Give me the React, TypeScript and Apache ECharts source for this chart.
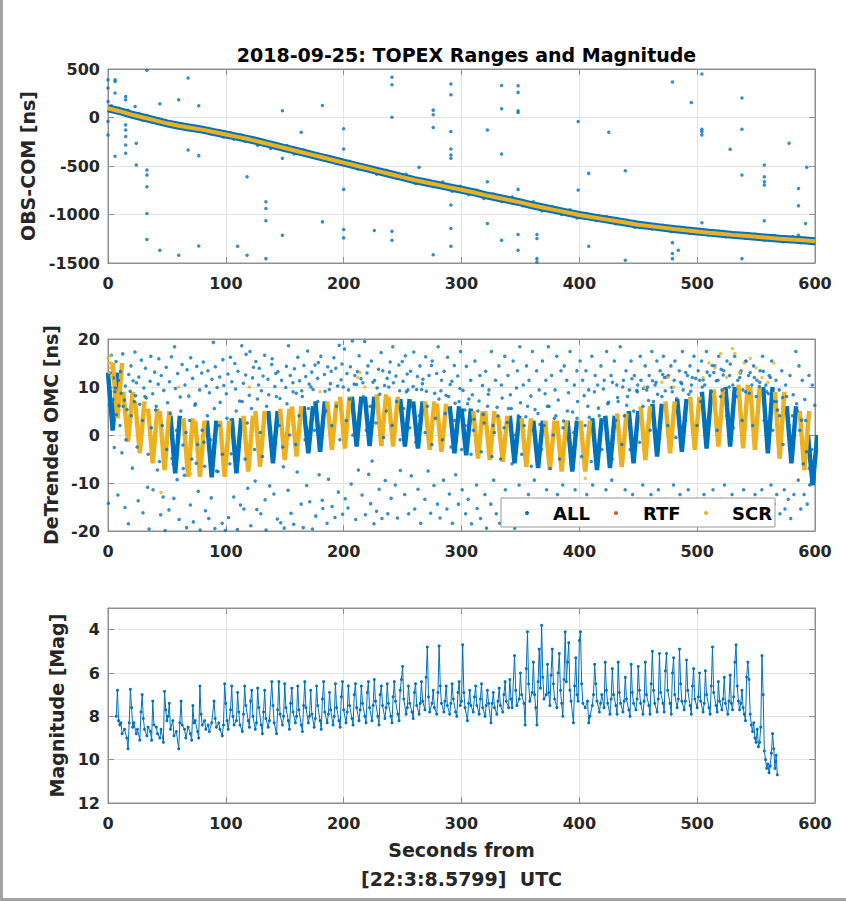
import React, { useEffect, useRef } from 'react';
import * as echarts from 'echarts';

const BLUE = '#0072BD';
const RED = '#D95319';
const YELLOW = '#EDB120';
const FONT = 'DejaVu Sans';
const AXIS_COLOR = '#8f8f8f';
const GRID_COLOR = '#e4e4e4';
const TEXT_COLOR = '#262626';

const titleText = '2018-09-25: TOPEX Ranges and Magnitude';
const yNames = ['OBS-COM [ns]', 'DeTrended OMC [ns]', 'Magnitude [Mag]'];
const xName = 'Seconds from\n[22:3:8.5799]  UTC';
const legendNames = ['ALL', 'RTF', 'SCR'];

// ---------- Top panel: OBS-COM ----------
const rangeTrendX = [0, 10, 20, 30, 40, 50, 60, 70, 80, 90, 100, 110, 120, 130, 140, 150, 160, 170, 180, 190, 200, 210, 220, 230, 240, 250, 260, 270, 280, 290, 300, 310, 320, 330, 340, 350, 360, 370, 380, 390, 400, 410, 420, 430, 440, 450, 460, 470, 480, 490, 500, 510, 520, 530, 540, 550, 560, 570, 580, 590, 600];
const rangeTrendY = [95, 65, 30, 0, -30, -60, -85, -105, -125, -150, -175, -200, -225, -255, -285, -315, -345, -375, -405, -435, -465, -495, -525, -555, -585, -615, -645, -670, -695, -720, -745, -770, -800, -825, -850, -875, -905, -930, -955, -980, -1005, -1025, -1045, -1065, -1085, -1105, -1120, -1135, -1150, -1163, -1175, -1187, -1198, -1210, -1220, -1230, -1240, -1250, -1258, -1266, -1275];
const rangeBandNoise = [[3, 120], [7, 60], [9, 95], [14, 40], [17, 75], [21, 20], [26, 40], [29, -25], [33, 20], [36, -40], [42, -15], [45, -60], [52, -45], [55, -85], [63, -70], [66, -115], [74, -90], [77, -140], [84, -115], [88, -170], [95, -140], [98, -200], [104, -160], [107, -225], [113, -180], [116, -245], [124, -215], [127, -285], [135, -250], [138, -320], [145, -285], [152, -290], [158, -375], [166, -335], [174, -410], [185, -395], [193, -470], [205, -450], [212, -530], [220, -505], [228, -585], [236, -545], [244, -620], [253, -585], [261, -680], [268, -640], [276, -715], [284, -665], [292, -760], [299, -710], [306, -795], [313, -750], [319, -835], [327, -790], [334, -865], [343, -820], [352, -910], [361, -870], [368, -960], [377, -920], [385, -1000], [392, -950], [398, -1035], [406, -990], [414, -1060], [423, -1020], [431, -1095], [440, -1060], [447, -1130], [455, -1090], [462, -1150], [471, -1110], [478, -1175], [487, -1140], [494, -1195], [502, -1155], [509, -1210], [517, -1175], [524, -1230], [532, -1190], [541, -1245], [549, -1205], [557, -1265], [566, -1220], [573, -1280], [581, -1230], [588, -1290], [596, -1250], [599, -1300]];
const rangeOutliers = [[0, 390], [0, 303], [0, 165], [0, -40], [0, -180], [6, 390], [6, 372], [6, 252], [6, -400], [15, 217], [15, 183], [15, 28], [15, -76], [15, -128], [15, -196], [15, -283], [15, -369], [23, 114], [24, -490], [24, -265], [33, 486], [33, -541], [33, -593], [33, -714], [33, -990], [33, -1258], [44, -1369], [44, 141], [60, 183], [60, -1421], [68, 407], [68, -334], [77, 121], [77, -393], [77, -1324], [110, -1328], [118, -610], [118, -1421], [134, -869], [134, -938], [134, -1065], [134, -1455], [148, 69], [148, -421], [148, -1214], [164, -152], [182, 124], [182, -1076], [200, -117], [200, -324], [200, -741], [200, -1155], [200, -1241], [226, -1165], [241, 414], [241, 338], [241, 3], [241, -1172], [241, -1265], [264, -514], [276, 76], [276, 28], [276, -103], [276, -1414], [291, 345], [291, 234], [291, -145], [291, -324], [291, -386], [291, -421], [291, -903], [291, -1145], [291, -1328], [322, -128], [322, -662], [322, -1093], [334, 331], [334, 90], [334, -376], [334, -1265], [348, 327], [348, 259], [348, 69], [348, 52], [348, -741], [348, -1207], [348, -1369], [364, -1207], [364, -1248], [364, -1455], [364, -1490], [399, -41], [399, -748], [408, -576], [408, -1328], [425, -152], [439, -548], [439, -1472], [479, 365], [479, -1290], [479, -1403], [479, -1455], [484, -1369], [495, 155], [504, 448], [504, -121], [504, -145], [504, -179], [504, -1086], [528, -328], [538, 200], [538, -121], [538, -593], [538, -1455], [557, -490], [557, -610], [557, -662], [557, -697], [557, -1065], [578, -265], [586, -731], [586, -910], [586, -1214], [592, -1093], [593, -514]];

// ---------- Middle panel: detrended OMC ----------
const omcTroughX = [4, 8, 17, 27, 38, 48, 57, 68, 78, 88, 99, 109, 119, 129, 140, 150, 160, 170, 180, 190, 201, 211, 222, 232, 242, 252, 263, 273, 283, 294, 304, 314, 324, 335, 345, 355, 365, 375, 385, 394, 405, 415, 426, 436, 446, 456, 466, 477, 487, 498, 508, 518, 528, 539, 549, 560, 570, 580, 591, 598];
const omcTroughY = [1, 3.5, -1.4, -3.8, -5.9, -7.3, -8, -8.7, -8.7, -8.8, -8.7, -8, -7.6, -6.6, -5.9, -5.2, -4.5, -3.8, -3.5, -3.1, -2.8, -2.4, -2.3, -2.3, -2.4, -2.4, -2.8, -3.1, -3.5, -3.8, -4.2, -4.9, -5.2, -5.6, -5.9, -6.6, -6.9, -7.3, -7.6, -7.6, -7.6, -7.3, -6.9, -6.6, -5.9, -5.2, -4.5, -3.8, -3.5, -3.1, -2.8, -2.4, -2.4, -2.8, -3.1, -3.8, -4.9, -5.9, -7.3, -10.5];
const omcPeakY = [13, 15, 9, 7, 5.5, 5, 4, 3.5, 3, 3, 3, 3.5, 4, 5, 5, 5.5, 6, 6, 7, 7, 8, 8, 8, 8.5, 8, 7.5, 7, 7, 6.5, 6, 5.5, 5, 5, 4, 4, 3.5, 3, 3, 3, 3, 3, 3.5, 4, 4.5, 5, 6, 6.5, 7, 7.5, 8, 9, 9.5, 10, 10.5, 10, 10, 9, 6, 5, 0];
const omcSource = ['A', 'S', 'S', 'S', 'S', 'S', 'A', 'S', 'S', 'A', 'S', 'A', 'S', 'S', 'A', 'S', 'S', 'A', 'A', 'S', 'S', 'A', 'A', 'S', 'S', 'A', 'A', 'S', 'S', 'A', 'A', 'S', 'S', 'S', 'A', 'S', 'A', 'S', 'S', 'A', 'S', 'A', 'A', 'S', 'A', 'S', 'A', 'S', 'A', 'S', 'A', 'S', 'A', 'S', 'S', 'A', 'S', 'A', 'S', 'A'];
const omcAllNoise = [[0.3, -14.2], [0.8, 10.7], [1.2, 6.3], [1.9, 12.9], [2.2, 9.1], [2.8, 16.6], [3.4, 1.2], [4.1, 7.4], [4.6, 11.9], [5.3, -2.6], [6.2, 9.8], [6.8, 15.3], [7.1, 4.2], [8.4, -12.5], [8.9, 11.4], [9.3, 6.1], [10.6, 13.2], [11.2, 8.7], [11.8, -3.7], [12.5, 16.9], [13.9, 7.3], [14.4, -15.1], [14.7, 10.2], [16.1, 5.3], [17.3, -18.5], [17.6, 12.6], [18.8, 9.1], [19.5, 14.4], [20.7, -6.9], [21.3, 11.3], [22.9, 17.3], [23.4, 8.2], [24.1, 10.9], [25.6, -13.7], [26.2, 12.1], [26.9, 6.4], [28.3, 15.6], [29.7, -16.2], [30.4, 9.8], [31.8, 13.9], [32.5, 7.7], [33.6, -10.9], [34.9, -19.6], [35.7, 11.2], [36.3, 16.4], [37.9, 8.6], [38.2, -11.4], [39.6, 13.1], [40.5, 5.2], [41.9, -7.3], [42.6, 10.6], [43.1, 15.9], [44.7, -16.6], [45.2, 12.4], [46.8, -12.9], [47.3, 9.3], [48.5, -19.9], [49.4, 14.1], [50.6, 6.7], [51.7, -15.6], [52.2, 11.1], [53.8, 16.3], [54.4, -4.9], [55.9, -13.2], [56.5, 18.4], [57.2, 9.7], [58.7, -9.3], [59.1, 12.8],
  [60.4, -17.6], [61.3, 7.9], [62.9, 14.7], [63.5, -2.1], [64.8, -8.4], [65.3, 10.4], [66.7, -19.3], [67.1, 13.6], [68.6, 8.1], [69.9, -14.6], [70.2, 16.1], [71.8, 11.8], [72.4, -18.1], [73.7, 6.2], [74.9, -5.9], [75.3, 14.3], [76.6, -11.7], [77.8, 9.4], [78.2, -19.8], [79.5, 12.9], [80.9, 15.2], [81.4, -1.5], [82.7, -15.8], [83.3, 10.2], [84.8, 13.4], [85.5, -17.4], [86.1, 8.8], [87.6, -13.1], [88.2, 11.6], [89.4, 19.3], [90.7, -19.5], [91.1, 14.2], [92.6, 9.9], [93.3, -7.6], [94.8, 12.1], [95.2, 6.8], [96.9, -18.4], [97.5, 15.7], [98.3, 10.3], [99.6, -19.9], [100.4, 8.6], [101.8, 12.7], [102.3, -17.2], [103.9, 16.2], [104.5, -3.9], [105.1, 11.1], [106.7, -12.9], [107.6, 14.9], [108.2, 9.6], [109.8, -19.7], [110.3, 13.3], [111.7, 7.1], [112.4, -14.6], [113.5, 18.6], [114.9, 10.8], [115.3, -15.4], [116.8, 12.5], [117.2, 16.8], [118.6, -11.1], [119.9, 8.3],
  [120.5, 17.4], [121.2, -18.9], [122.7, 11.9], [123.4, 14.1], [124.9, -9.6], [125.5, 15.3], [126.3, -15.5], [127.8, 10.4], [128.4, 13.9], [129.7, -16.4], [130.2, 9.2], [131.6, 12.3], [132.9, 16.6], [133.3, -13.5], [134.1, -19.8], [135.8, 11.6], [136.4, 8.4], [137.2, -10.6], [138.9, 14.7], [139.3, 15.9], [140.8, -12.3], [141.6, 10.1], [142.4, 12.8], [143.7, -17.5], [144.2, 13.2], [145.9, 7.6], [146.6, -18.3], [147.3, 11.4], [148.8, -6.6], [149.5, -19.4], [150.9, 9.9], [151.4, 14.3], [152.8, -11.5], [153.2, 18.6], [154.7, 12.4], [155.3, -16.3], [156.9, 10.9], [157.6, -18.6], [158.2, 13.8], [159.8, 8.7], [160.5, -7.7], [161.1, 16.2], [162.6, 11.3], [163.9, -14.4], [164.4, 9.2], [165.7, -19.3], [166.3, 14.5], [167.8, 12.2], [168.6, -10.5], [169.4, 17.5], [170.7, 10.6], [171.2, -13.9], [172.9, 13.1], [173.5, -19.6], [174.1, 9.5], [175.7, 14.6], [176.3, -16.9], [177.9, 11.8], [178.5, 15.1], [179.2, -8.3],
  [180.6, 16.4], [181.8, -13.6], [182.3, -15.3], [183.7, 12.6], [184.2, 9.1], [185.9, -18.4], [186.5, 14.2], [187.1, -9.2], [188.8, 10.7], [189.4, 13.3], [190.2, -14.9], [191.7, 16.1], [192.6, -17.2], [193.3, 13.9], [194.9, 10.2], [195.5, -11.9], [196.2, 18.7], [197.8, 11.5], [198.6, 14.8], [199.1, -16.5], [200.7, 17.9], [201.3, -13.3], [202.8, 12.8], [203.6, -15.2], [204.1, 9.4], [205.7, 14.2], [206.4, -10.2], [207.3, 19.6], [208.9, 10.6], [209.5, 12.4], [210.2, -17.6], [211.8, 13.2], [212.5, -7.3], [213.1, 16.5], [214.7, 11.7], [215.6, -12.5], [216.3, 10.9], [217.9, 19.5], [218.4, -16.6], [219.8, 12.9], [220.6, 14.4], [221.2, -8.2], [222.9, -14.3], [223.5, 15.4], [224.1, -5.4], [225.7, -18.5], [226.3, 11.4], [227.9, -15.9], [228.4, 9.8], [229.6, 13.7], [230.1, -11.3], [231.8, 17.2], [232.5, -17.4], [233.2, 13.4], [234.7, 10.3], [235.3, -9.5], [236.9, 11.8], [237.4, -16.4], [238.8, 13.1], [239.5, 15.2],
  [240.3, -13.2], [241.7, 18.4], [242.2, 10.9], [243.8, -10.4], [244.4, 12.3], [245.6, -17.3], [246.9, 14.6], [247.5, 9.2], [248.1, -7.4], [249.7, 15.3], [250.4, 11.2], [251.8, -12.4], [252.3, 16.5], [253.9, 12.7], [254.5, 9.4], [255.2, -16.4], [256.8, 13.3], [257.4, -8.5], [258.9, 10.1], [259.5, 17.3], [260.3, -15.4], [261.9, 9.5], [262.6, 12.2], [263.1, -11.3], [264.7, 14.4], [265.4, -18.4], [266.8, 10.7], [267.3, 11.6], [268.9, -13.4], [269.6, 16.3], [270.2, 9.1], [271.7, -7.5], [272.4, 12.4], [273.8, -16.3], [274.5, 14.5], [275.1, 15.4], [276.6, -10.5], [277.3, 8.7], [278.9, 12.8], [279.6, -14.4], [280.2, 18.4], [281.8, -17.3], [282.5, 9.2], [283.1, 11.4], [284.7, -9.4], [285.3, 13.3], [286.9, 8.3], [287.6, -15.4], [288.2, 16.2], [289.7, -12.3], [290.4, 10.5], [291.8, 11.2], [292.3, -18.4], [293.9, 14.5], [294.6, 6.6], [295.1, -8.3], [296.8, 12.3], [297.4, -14.4], [298.7, 9.7], [299.2, 17.4],
  [300.6, -11.4], [301.3, 9.3], [302.9, 5.2], [303.5, -16.4], [304.1, 14.3], [305.7, -13.4], [306.3, 7.5], [307.8, 11.4], [308.5, -18.5], [309.2, 8.4], [310.7, 3.3], [311.4, 15.4], [312.8, -10.4], [313.3, -15.3], [314.9, 7.1], [315.6, 12.4], [316.2, -17.4], [317.8, 10.3], [318.4, 4.3], [319.9, -12.4], [320.5, 13.3], [321.2, -19.4], [322.8, 8.5], [323.3, 9.4], [324.9, -14.4], [325.4, 17.4], [326.7, 2.0], [327.3, -9.4], [328.9, 11.4], [329.5, -16.4], [330.2, 5.8], [331.7, 14.4], [332.4, -18.4], [333.8, 10.4], [334.5, 7.7], [335.1, -13.4], [336.7, 16.4], [337.2, -11.4], [338.8, 2.6], [339.4, 12.4], [340.9, -17.4], [341.5, 8.4], [342.3, 5.5], [343.8, 15.4], [344.5, -15.4], [345.2, -19.4], [346.7, 9.8], [347.4, 13.4], [348.9, -10.4], [349.5, 18.4], [350.1, 6.7], [351.8, -14.4], [352.4, 10.4], [353.9, -17.4], [354.6, 3.8], [355.2, 14.4], [356.8, -12.4], [357.3, 11.4], [358.9, 8.1], [359.6, -16.4],
  [360.2, 17.4], [361.8, -9.4], [362.4, 5.3], [363.7, 13.4], [364.3, -18.4], [365.9, 9.4], [366.5, 2.2], [367.1, -13.4], [368.7, 15.4], [369.4, -15.4], [370.9, 8.6], [371.6, 11.4], [372.2, -11.4], [373.7, 18.4], [374.3, 6.0], [375.8, -17.4], [376.5, 12.4], [377.2, -14.4], [378.8, 3.5], [379.4, 9.4], [380.9, 16.4], [381.5, -12.4], [382.1, 7.3], [383.7, -18.4], [384.4, 13.4], [385.9, -10.4], [386.6, 2.9], [387.2, 14.4], [388.7, -15.4], [389.3, 11.4], [390.8, 8.8], [391.5, -13.4], [392.1, 17.4], [393.6, -17.4], [394.3, 4.8], [395.8, 10.4], [396.4, -11.4], [397.9, 13.4], [398.5, 7.0], [399.2, -16.4], [400.7, 15.4], [401.3, -14.4], [402.8, 11.4], [403.5, -18.4], [404.1, 8.2], [405.6, 13.4], [406.3, -12.4], [407.9, 9.4], [408.4, 3.7], [409.1, -15.4], [410.6, 16.4], [411.3, -10.4], [412.8, 9.0], [413.4, 12.4], [414.9, -17.4], [415.5, 10.4], [416.2, 5.6], [417.7, -13.4], [418.3, 14.4], [419.8, -15.4],
  [420.4, 9.6], [421.1, 11.4], [422.6, -11.4], [423.2, 17.4], [424.8, 6.8], [425.4, -16.4], [426.9, 12.4], [427.5, -9.4], [428.1, 11.0], [429.7, 15.4], [430.3, -18.4], [431.8, 10.4], [432.5, 7.8], [433.1, -13.4], [434.7, 18.4], [435.3, -14.4], [436.8, 10.0], [437.4, 11.4], [438.9, -11.4], [439.6, 13.4], [440.2, 6.2], [441.8, -17.4], [442.4, 9.4], [443.9, 15.4], [444.6, 11.7], [445.2, -12.4], [446.7, 12.4], [447.3, -15.4], [448.8, 9.3], [449.5, 10.4], [450.1, -13.4], [451.7, 16.4], [452.3, 11.4], [453.8, -10.4], [454.4, 9.7], [455.9, 14.4], [456.6, -16.4], [457.2, 9.4], [458.7, 7.2], [459.3, 12.4], [460.8, -12.4], [461.5, 17.4], [462.1, 11.3], [463.7, -14.4], [464.3, 10.4], [465.8, 15.4], [466.4, 8.5], [467.1, -11.4], [468.6, 13.4], [469.2, -15.4], [470.7, 12.6], [471.4, 16.4], [472.9, 9.2], [473.5, -13.4], [474.1, 12.1], [475.6, 12.4], [476.2, -17.4], [477.7, 14.4], [478.4, 9.9], [479.9, -10.4],
  [480.5, 11.4], [481.1, 15.4], [482.6, 7.6], [483.3, -14.4], [484.8, 13.4], [485.4, -12.4], [486.9, 10.7], [487.5, 17.4], [488.1, 9.4], [489.7, -16.4], [490.3, 13.0], [491.8, 12.4], [492.4, -11.4], [493.9, 14.4], [494.5, 9.1], [495.1, 10.4], [496.7, -15.4], [497.3, 16.4], [498.8, 11.8], [499.4, -13.4], [500.9, 13.4], [501.5, -18.4], [502.1, 11.4], [503.7, 15.4], [504.3, 10.0], [505.8, -12.4], [506.4, 10.4], [507.9, 17.4], [508.5, 13.1], [509.2, -14.4], [510.7, 12.4], [511.3, 9.2], [512.8, 14.5], [513.4, -11.4], [514.9, 14.4], [515.6, -16.4], [516.2, 11.3], [517.7, 11.4], [518.3, 16.4], [519.8, -13.4], [520.4, 13.7], [521.1, 9.4], [522.6, 13.4], [523.2, -10.4], [524.7, 8.8], [525.3, 15.4], [526.9, -15.4], [527.5, 12.4], [528.1, 14.8], [529.6, -12.4], [530.2, 10.4], [531.8, 16.4], [532.4, 9.5], [533.9, -14.4], [534.5, 11.4], [535.1, -17.4], [536.7, 12.9], [537.3, 13.4], [538.8, 9.4], [539.4, -11.4],
  [540.9, 15.3], [541.5, 15.4], [542.1, -13.4], [543.6, 12.4], [544.3, 8.7], [545.8, -16.4], [546.4, 10.4], [547.9, 14.4], [548.5, 12.0], [549.1, -12.4], [550.7, 11.4], [551.3, -15.4], [552.8, 10.1], [553.4, 13.4], [554.9, -11.4], [555.5, 16.4], [556.1, 13.3], [557.7, -13.4], [558.3, 10.4], [559.8, -17.4], [560.4, 8.6], [561.1, 12.4], [562.6, -10.4], [563.2, 15.4], [564.7, 7.0], [565.3, -14.4], [566.9, 11.4], [567.5, -12.4], [568.1, 5.2], [569.6, 9.4], [570.2, -16.4], [571.8, 13.4], [572.4, 7.8], [573.9, -11.4], [574.5, -15.4], [575.1, 10.4], [576.7, 5.7], [577.3, -13.4], [578.8, 12.4], [579.4, -17.4], [580.9, 4.0], [581.5, 8.4], [582.1, -12.4], [583.7, 17.4], [584.3, 6.5], [585.8, -9.4], [586.4, 14.4], [587.9, -15.4], [588.5, 3.1], [589.2, 11.4], [590.7, -12.4], [591.3, 7.4], [592.8, -3.5], [593.4, -14.4], [594.9, 12.4], [595.5, -10.4], [596.1, -5.3], [597.7, 10.4], [598.3, -8.4], [599.8, 6.2]];
const omcAllNearBand = [[2.5, 5], [5.8, 9], [10.2, 2], [12.8, 6], [15.3, -1], [19.8, 4], [22.4, 7], [24.7, -2.5], [29.2, 3], [31.3, 8], [34.1, -4], [36.8, 1.5], [40.9, 6], [43.7, -5.5], [46.1, 2], [49.9, -3], [52.9, 4.5], [55.2, -6], [58.1, 1], [61.8, 5], [63.9, -7], [66.2, 0.5], [69.3, 3], [71.2, -5], [74.3, 6.5], [76.1, -2], [79.9, 1], [82.1, -6.5], [84.3, 4], [87.1, -1], [90.2, 5.5], [92.1, -7.5], [94.3, 2], [97.1, -4], [100.9, 3.5], [103.4, -6], [106.1, 1], [108.8, 5], [111.2, -2.5], [113.9, 7], [116.3, -5], [118.2, 2.5], [121.8, 5.5], [124.3, -3], [126.8, 7.5], [129.2, 0.5], [131.1, -4.5], [134.6, 6], [137.9, 1.5], [139.8, -3], [142.9, 8], [145.3, 2], [148.3, -2.5], [151.9, 6.5], [154.2, 0], [157.1, 9], [159.3, -2], [162.1, 4], [164.9, 8], [167.2, -1], [170.1, 5.5], [172.3, 10], [175.2, 1], [178.1, 7], [181.2, -0.5], [184.8, 5], [187.8, 9.5], [189.9, 2], [193.9, 6], [196.8, -1], [199.7, 10], [202.2, 3], [205.1, 7.5], [207.8, 0], [210.9, 10.5], [213.6, 4], [216.8, 8], [219.2, 1], [222.3, 6], [224.8, 11], [227.3, 2.5], [230.7, 8.5], [233.9, -0.5], [236.2, 5], [238.3, 10], [241.1, 2], [244.9, 7], [247.9, -1], [250.9, 5.5], [253.2, 9], [256.1, 1.5], [258.3, 6], [261.2, -1.5], [264.1, 4], [266.2, 9.5], [269.1, 0.5], [271.1, 6], [274.9, -2], [277.9, 3.5], [280.9, 7.5], [283.8, -1], [286.2, 4.5], [289.1, 8], [291.1, -2.5], [294.1, 3], [297.9, 7], [300.2, -3], [303.1, 2], [305.2, 6.5], [308.1, -4], [310.1, 1], [313.9, 5], [316.8, -3.5], [319.2, 2.5], [322.1, 6], [325.8, -4.5], [327.9, 0.5], [330.9, 4], [333.1, -5], [336.1, 1.5], [339.9, 5.5], [342.9, -6], [345.9, 0], [348.2, 4], [351.1, -4], [353.2, 2], [356.1, 6], [359.2, -6.5], [361.1, 1], [364.9, 4.5], [367.9, -3], [370.1, 2], [372.9, 6], [375.2, -7], [377.9, 0], [380.1, 4], [383.2, -5], [386.1, 1.5], [389.9, 5], [392.9, -6], [395.2, 0.5], [398.1, 3.5], [401.9, -4.5], [404.9, 2], [407.2, 6], [410.1, -5.5], [412.2, 1], [416.9, 4], [419.1, -3], [421.9, 2.5], [424.1, 6.5], [427.9, -5], [430.9, 3], [432.9, 7], [436.1, -2], [438.2, 4], [440.9, 8], [443.1, -3], [446.1, 5], [449.1, 9], [451.1, -1.5], [454.1, 6], [457.9, 10], [460.1, 1], [462.9, 7], [465.1, 11], [467.9, 0], [470.1, 8], [472.2, 12], [475.1, 2], [478.9, 9], [481.9, -0.5], [484.1, 6], [486.1, 11], [490.1, 3], [492.9, 8.5], [495.9, 12], [499.9, 2], [502.9, 7], [505.1, 11.5], [509.9, 3], [512.1, 9], [514.1, 13], [516.9, 1], [519.9, 8], [522.1, 12.5], [525.1, 4], [527.2, 10], [530.7, 1.5], [533.1, 8], [536.1, 12], [538.1, 3], [541.1, 9], [544.9, 13], [547.1, 2], [550.1, 8], [553.1, 11], [556.8, 3], [559.1, 9], [562.1, 12], [564.1, 1], [567.1, 7], [569.9, 4], [572.9, -2], [575.9, 8], [578.1, 2], [581.1, -4], [584.9, 5], [587.1, 1], [590.1, -6], [592.1, 3], [595.1, -7], [597.1, -3], [599.1, -9]];
const omcScrExtra = [[0, 16], [1, 15], [1, 13], [2, 14], [2, 16.5], [3, 12], [3, 15], [4, 13.5], [45, -12], [60, 10], [70, -8], [120, 10], [180, 9], [212, 12], [214, 13], [218, 10], [405, -9], [455, 10], [470, 11], [475, 12], [480, 10], [505, 12], [510, 15], [515, 14], [520, 17], [525, 12], [530, 18], [532, 17], [536, 13], [540, 15], [545, 16], [550, 14], [555, 12], [560, 11], [565, 15]];
const omcRtf: number[][] = [];

// ---------- Bottom panel: magnitude ----------
const magData = [[7, 8.0], [8, 6.8], [9, 8.2], [10, 8.4], [11, 8.3], [12, 8.8], [14, 8.6], [16, 9.0], [17, 9.5], [18, 8.3], [19, 6.75], [20, 7.6], [21, 8.5], [22, 8.3], [24, 8.8], [25, 8.6], [27, 9.1], [28, 7.8], [29, 7.0], [30, 8.1], [31, 8.6], [33, 8.9], [34, 8.5], [36, 8.7], [37, 9.1], [38, 7.3], [39, 8.4], [41, 8.5], [42, 8.8], [44, 9.0], [45, 8.6], [47, 9.2], [48, 6.85], [49, 7.7], [50, 8.2], [51, 8.0], [52, 7.4], [53, 8.6], [55, 8.2], [56, 8.9], [58, 8.7], [60, 9.5], [61, 8.3], [62, 7.3], [63, 8.4], [65, 8.6], [66, 9.0], [68, 8.5], [70, 8.8], [71, 9.1], [72, 7.5], [73, 8.3], [74, 8.2], [76, 8.7], [77, 9.0], [78, 6.6], [79, 7.9], [80, 8.4], [82, 8.2], [83, 8.6], [85, 8.4], [86, 8.7], [88, 8.3], [90, 7.3], [91, 8.1], [92, 8.5], [94, 8.3], [95, 8.6], [97, 8.9], [98, 8.4], [99, 6.5], [100, 7.4],
  [101, 8.2], [102, 8.6], [104, 7.7], [105, 6.6], [106, 8.0], [107, 8.4], [109, 8.2], [110, 6.9], [111, 7.8], [112, 8.4], [114, 8.7], [115, 7.9], [116, 6.6], [117, 7.5], [119, 8.2], [120, 8.5], [121, 7.3], [122, 6.8], [123, 8.0], [125, 8.6], [126, 8.3], [127, 6.7], [128, 7.6], [130, 8.4], [131, 8.8], [132, 7.8], [133, 6.8], [134, 8.1], [136, 8.5], [137, 8.2], [139, 6.4], [140, 7.5], [141, 8.3], [143, 8.8], [144, 7.7], [145, 6.4], [146, 7.9], [148, 8.4], [149, 8.0], [150, 6.5], [151, 7.6], [153, 8.2], [154, 8.6], [155, 7.4], [156, 6.7], [157, 7.8], [159, 8.3], [160, 8.0], [161, 6.6], [162, 7.7], [164, 8.4], [165, 8.7], [166, 7.5], [167, 6.4], [168, 7.6], [170, 8.3], [171, 8.0], [172, 6.8], [173, 7.9], [175, 8.5], [176, 8.1], [177, 6.6], [178, 7.5], [180, 8.2], [181, 8.6], [182, 7.2], [183, 6.4], [184, 7.8], [186, 8.3], [187, 7.9], [188, 6.9], [189, 7.7], [191, 8.4], [192, 8.0], [193, 6.5], [194, 7.6], [196, 8.2], [197, 8.5], [198, 7.1], [199, 6.4], [200, 7.7],
  [202, 8.3], [203, 7.8], [204, 6.6], [205, 7.5], [207, 8.1], [208, 8.4], [209, 7.0], [210, 6.5], [211, 7.6], [213, 8.2], [214, 7.7], [215, 6.6], [216, 7.4], [218, 8.0], [219, 8.3], [220, 6.9], [221, 6.4], [222, 7.6], [224, 8.2], [225, 7.5], [226, 6.3], [227, 7.3], [229, 8.0], [230, 8.4], [231, 7.0], [232, 6.6], [233, 7.5], [235, 8.1], [236, 7.6], [237, 6.5], [238, 7.4], [240, 8.0], [241, 8.3], [242, 7.1], [243, 6.4], [244, 7.3], [246, 7.9], [247, 8.2], [248, 6.8], [249, 6.3], [250, 5.7], [251, 7.2],
  [253, 7.9], [254, 7.6], [255, 6.6], [256, 7.4], [258, 7.8], [259, 8.1], [260, 6.9], [261, 6.5], [262, 7.5], [264, 7.9], [265, 7.4], [266, 6.4], [267, 7.3], [269, 7.7], [270, 6.2], [271, 4.8], [272, 7.1], [273, 7.8], [275, 7.4], [276, 6.8], [277, 7.6], [279, 7.9], [280, 6.9], [281, 4.75], [282, 6.6], [283, 7.4], [285, 7.8], [286, 7.3], [287, 6.6], [288, 7.5], [290, 7.9], [291, 7.4], [292, 6.5], [293, 7.2], [295, 7.8], [296, 8.0], [297, 6.9], [298, 6.4], [299, 7.5], [300, 7.3], [301, 4.7], [302, 6.9], [303, 7.6], [305, 8.2], [306, 7.4], [307, 6.8], [308, 7.5], [310, 7.8], [311, 7.1], [312, 6.6], [313, 7.5], [315, 7.9], [316, 7.2], [317, 6.5], [318, 7.6], [320, 8.0], [321, 7.5], [322, 6.8], [323, 7.4], [325, 8.3], [326, 7.4], [327, 6.9], [328, 7.6], [330, 7.9], [331, 7.3], [332, 6.7], [333, 7.5], [335, 7.8], [336, 7.0], [337, 6.4], [338, 7.3], [340, 7.6],
  [341, 6.3], [342, 7.2], [343, 7.6], [345, 5.2], [346, 6.8], [347, 7.5], [349, 7.2], [350, 6.0], [351, 7.0], [353, 7.4], [354, 8.4], [355, 5.8], [356, 4.1], [357, 6.5], [358, 7.3], [360, 6.9], [361, 5.5], [362, 7.0], [363, 7.6], [364, 8.4], [365, 6.4], [366, 4.9], [367, 6.7], [368, 3.8], [369, 6.2], [370, 7.2], [372, 7.0], [373, 5.6], [374, 6.9], [375, 7.5], [376, 6.1], [377, 4.9], [378, 6.5], [379, 7.2], [381, 7.6], [382, 6.0], [383, 5.1], [384, 6.8], [385, 7.4], [386, 8.0], [387, 6.3], [388, 4.1], [389, 6.4], [390, 5.5], [391, 4.6], [392, 6.8], [393, 7.3], [395, 8.3], [396, 6.6], [397, 5.3], [398, 7.0], [399, 7.3], [400, 4.5], [401, 4.1], [402, 6.5], [403, 7.4], [405, 7.6], [407, 7.3], [408, 8.3], [409, 8.0],
  [411, 7.5], [412, 7.0], [413, 5.6], [414, 6.5], [415, 7.3], [417, 7.8], [418, 7.4], [419, 7.0], [421, 7.6], [422, 5.5], [423, 6.8], [424, 7.4], [426, 7.9], [427, 7.2], [428, 5.8], [429, 7.0], [431, 7.5], [432, 7.9], [433, 5.5], [434, 6.9], [435, 7.4], [437, 7.8], [438, 7.3], [439, 6.2], [440, 7.2], [442, 7.7], [443, 8.0], [444, 5.6], [445, 6.9], [446, 7.4], [448, 7.7], [449, 7.2], [450, 5.7], [451, 6.8], [452, 7.4], [454, 7.9], [455, 7.3], [456, 5.5], [457, 7.0], [459, 7.5], [460, 7.9], [461, 6.5], [462, 5.0], [463, 6.8], [464, 7.4], [466, 7.8], [467, 7.2], [468, 5.1], [469, 6.9], [471, 7.4], [472, 7.8], [473, 5.9], [474, 5.1], [475, 6.8], [477, 7.4], [478, 7.9], [479, 6.0], [480, 5.3], [481, 7.0], [483, 7.6], [484, 7.2], [485, 4.9], [486, 6.5], [487, 7.3], [489, 7.7], [490, 7.3], [491, 5.4], [492, 6.8], [494, 7.5], [495, 7.9], [496, 6.6], [497, 5.8], [498, 7.2], [500, 7.6], [501, 7.1], [502, 6.0], [503, 7.3], [505, 7.8], [506, 7.4], [507, 5.9], [508, 7.0], [510, 7.6], [511, 7.9], [512, 6.6], [513, 4.8], [514, 6.9], [516, 7.5], [517, 7.8], [518, 6.4], [519, 7.3], [521, 7.7], [522, 7.2], [523, 6.2], [524, 7.4], [526, 7.9], [527, 7.3], [528, 6.1], [529, 7.4], [530, 7.7], [531, 7.1], [532, 5.5], [533, 4.7], [534, 6.6], [535, 7.3], [536, 7.7],
  [537, 7.4], [538, 6.8], [539, 7.6], [540, 7.9], [541, 8.2], [542, 6.2], [543, 5.5], [544, 6.3], [545, 7.9], [546, 8.4], [547, 8.7], [548, 8.3], [549, 9.0], [550, 9.2], [551, 8.6], [552, 9.4], [553, 9.2], [554, 8.5], [555, 5.2], [556, 7.0], [557, 9.6], [558, 10.0], [559, 10.4], [560, 10.2], [561, 10.6], [562, 10.3], [563, 9.7], [564, 8.8], [565, 9.5], [566, 10.4], [567, 9.8], [568, 10.7]];

const GRIDS = [
  { left: 108, top: 69, width: 707, height: 194 },
  { left: 108, top: 339, width: 707, height: 192 },
  { left: 108, top: 608, width: 707, height: 195 },
];

const labelStyle = { fontFamily: FONT, fontWeight: 'bold' as const, fontSize: 16, color: TEXT_COLOR };
const nameStyle = { fontFamily: FONT, fontWeight: 'bold' as const, fontSize: 19, color: TEXT_COLOR };
const plainNumber = (v: number) => String(v);

function xAxisMain(gridIndex: number, withName: boolean) {
  return {
    type: 'value', gridIndex, min: 0, max: 600, interval: 100, position: 'bottom',
    axisLine: { show: true, onZero: false, lineStyle: { color: AXIS_COLOR, width: 1 } },
    axisTick: { show: true, inside: true, length: 6, lineStyle: { color: AXIS_COLOR } },
    axisLabel: { ...labelStyle, margin: 12, formatter: plainNumber },
    splitLine: { show: true, lineStyle: { color: GRID_COLOR, width: 1 } },
    name: withName ? xName : '',
    nameLocation: 'middle', nameGap: 32,
    nameTextStyle: { ...nameStyle, lineHeight: 29 },
  };
}
function xAxisMirror(gridIndex: number) {
  return {
    type: 'value', gridIndex, min: 0, max: 600, interval: 100, position: 'top',
    axisLine: { show: true, onZero: false, lineStyle: { color: AXIS_COLOR, width: 1 } },
    axisTick: { show: true, inside: true, length: 6, lineStyle: { color: AXIS_COLOR } },
    axisLabel: { show: false }, splitLine: { show: false },
  };
}
function yAxisMain(gridIndex: number, ext: any, name: string, gap: number) {
  const { labelExtra, ...rest } = ext;
  return {
    type: 'value', gridIndex, position: 'left', ...rest,
    axisLine: { show: true, onZero: false, lineStyle: { color: AXIS_COLOR, width: 1 } },
    axisTick: { show: true, inside: true, length: 6, lineStyle: { color: AXIS_COLOR } },
    axisLabel: { ...labelStyle, margin: 8, formatter: plainNumber, ...(labelExtra || {}) },
    splitLine: { show: true, lineStyle: { color: GRID_COLOR, width: 1 } },
    name, nameLocation: 'middle', nameRotate: 90, nameGap: gap, nameTextStyle: nameStyle,
  };
}
function yAxisMirror(gridIndex: number, ext: any) {
  const { labelExtra, ...rest } = ext;
  return {
    type: 'value', gridIndex, position: 'right', ...rest,
    axisLine: { show: true, onZero: false, lineStyle: { color: AXIS_COLOR, width: 1 } },
    axisTick: { show: true, inside: true, length: 6, lineStyle: { color: AXIS_COLOR } },
    axisLabel: { show: false }, splitLine: { show: false },
  };
}

function buildVs(which: string) {
  const out: any[] = [];
  for (let i = 0; i < omcTroughX.length; i++) {
    if (omcSource[i] !== which) continue;
    const x = omcTroughX[i];
    out.push({ coords: [[x - 4, omcPeakY[i]], [x, omcTroughY[i]], [x + 4, omcPeakY[i]]] });
  }
  return out;
}

export default function App() {
  const ref = useRef<HTMLDivElement>(null);
  useEffect(() => {
    document.body.style.margin = '0';
    if (!ref.current) return;
    const chart = echarts.init(ref.current, undefined, { renderer: 'svg' });
    const ext0 = { min: -1500, max: 500, interval: 500 };
    const ext1 = { min: -20, max: 20, interval: 10 };
    const ext2 = { min: 3, max: 12, splitNumber: 5, inverse: true, labelExtra: { showMinLabel: false } };
    const trend = rangeTrendX.map((x, i) => [x, rangeTrendY[i]]);
    const dot = (size: number, color: string) => ({ symbol: 'circle', symbolSize: size, itemStyle: { color } });

    chart.setOption({
      animation: false,
      backgroundColor: '#ffffff',
      title: {
        text: titleText, left: 461.5, top: 40, textAlign: 'center',
        textStyle: { fontFamily: FONT, fontWeight: 'bold', fontSize: 19, color: '#000000' },
      },
      grid: GRIDS.map((g) => ({ ...g, show: true, borderColor: AXIS_COLOR, borderWidth: 1, backgroundColor: '#ffffff' })),
      xAxis: [xAxisMain(0, false), xAxisMain(1, false), xAxisMain(2, true), xAxisMirror(0), xAxisMirror(1), xAxisMirror(2)],
      yAxis: [
        yAxisMain(0, ext0, yNames[0], 61),
        yAxisMain(1, ext1, yNames[1], 40),
        yAxisMain(2, ext2, yNames[2], 36),
        yAxisMirror(0, ext0), yAxisMirror(1, ext1), yAxisMirror(2, ext2),
      ],
      series: [
        // top panel
        { name: 'ALL band', type: 'line', xAxisIndex: 0, yAxisIndex: 0, data: trend, showSymbol: false, lineStyle: { color: BLUE, width: 8 } },
        { name: legendNames[0], type: 'scatter', xAxisIndex: 0, yAxisIndex: 0, data: rangeBandNoise, ...dot(3.5, BLUE) },
        { name: legendNames[0] + ' outliers', type: 'scatter', xAxisIndex: 0, yAxisIndex: 0, data: rangeOutliers, ...dot(3.5, BLUE) },
        { name: legendNames[2], type: 'line', xAxisIndex: 0, yAxisIndex: 0, data: trend, showSymbol: false, lineStyle: { color: YELLOW, width: 4 } },
        // middle panel
        { name: legendNames[0], type: 'scatter', xAxisIndex: 1, yAxisIndex: 1, data: omcAllNoise, ...dot(3.5, BLUE) },
        { name: legendNames[0] + ' near band', type: 'scatter', xAxisIndex: 1, yAxisIndex: 1, data: omcAllNearBand, ...dot(3.5, BLUE) },
        { name: 'ALL cycles', type: 'lines', coordinateSystem: 'cartesian2d', xAxisIndex: 1, yAxisIndex: 1, polyline: true, data: buildVs('A'), lineStyle: { color: BLUE, width: 4.5, opacity: 1 } },
        { name: legendNames[1], type: 'scatter', xAxisIndex: 1, yAxisIndex: 1, data: omcRtf, ...dot(3.5, RED) },
        { name: 'SCR cycles', type: 'lines', coordinateSystem: 'cartesian2d', xAxisIndex: 1, yAxisIndex: 1, polyline: true, data: buildVs('S'), lineStyle: { color: YELLOW, width: 4.5, opacity: 1 } },
        { name: legendNames[2], type: 'scatter', xAxisIndex: 1, yAxisIndex: 1, data: omcScrExtra, ...dot(3.5, YELLOW) },
        // bottom panel
        { name: 'Magnitude', type: 'line', xAxisIndex: 2, yAxisIndex: 2, data: magData, symbol: 'circle', symbolSize: 3, showSymbol: true, itemStyle: { color: BLUE }, lineStyle: { color: BLUE, width: 1 } },
      ],
      graphic: [
        { type: 'rect', z: 100, shape: { x: 0, y: 0, width: 3, height: 901 }, style: { fill: '#a3a3a3' } },
        { type: 'rect', z: 100, shape: { x: 0, y: 898, width: 846, height: 3 }, style: { fill: '#a3a3a3' } },
        { type: 'rect', z: 100, shape: { x: 501, y: 498, width: 274, height: 29 }, style: { fill: '#ffffff', stroke: '#9a9a9a', lineWidth: 1 } },
        { type: 'circle', z: 101, shape: { cx: 527, cy: 513, r: 2 }, style: { fill: BLUE } },
        { type: 'circle', z: 101, shape: { cx: 616, cy: 513, r: 2 }, style: { fill: RED } },
        { type: 'circle', z: 101, shape: { cx: 706, cy: 513, r: 2 }, style: { fill: YELLOW } },
        ...[553, 643, 732].map((x, i) => ({
          type: 'text', z: 101, x, y: 513,
          style: { text: legendNames[i], fill: '#000000', fontFamily: FONT, fontWeight: 'bold', fontSize: 18, align: 'left', verticalAlign: 'middle', textAlign: 'left', textVerticalAlign: 'middle' },
        })),
      ],
    });
    return () => chart.dispose();
  }, []);
  return <div ref={ref} style={{ position: 'absolute', left: 0, top: 0, width: 846, height: 901 }} />;
}
